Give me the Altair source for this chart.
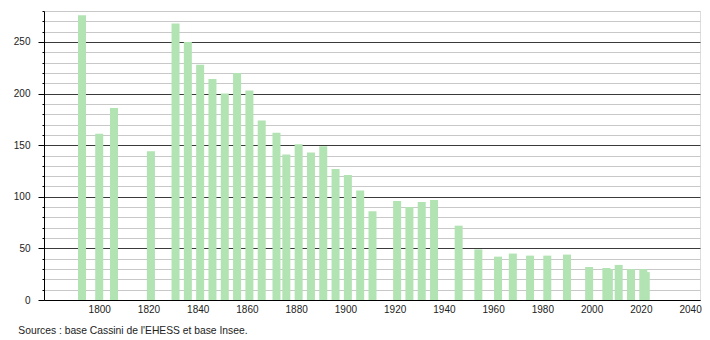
import altair as alt
import pandas as pd

years = [1793, 1800, 1806, 1821, 1831, 1836, 1841, 1846, 1851, 1856, 1861, 1866,
         1872, 1876, 1881, 1886, 1891, 1896, 1901, 1906, 1911, 1921, 1926, 1931,
         1936, 1946, 1954, 1962, 1968, 1975, 1982, 1990, 1999, 2006, 2007, 2011,
         2016, 2021, 2022]
population = [276, 161, 186, 144, 268, 250, 228, 214, 200, 220, 203, 174,
              162, 141, 151, 143, 149, 127, 121, 106, 86, 96, 90, 95,
              97, 72, 49, 42, 45, 43, 43, 44, 32, 31, 30, 34,
              30, 30, 27]
x_ticks = [1800, 1820, 1840, 1860, 1880, 1900, 1920, 1940, 1960, 1980, 2000, 2020, 2040]
y_ticks = list(range(0, 290, 10))
source_text = "Sources : base Cassini de l'EHESS et base Insee."

df = pd.DataFrame({"annee": years, "population": population})

major = "datum.value % 50 === 0"

bars = alt.Chart(df).mark_bar(size=8, color="#b2e3b2").encode(
    x=alt.X("annee:Q",
            scale=alt.Scale(domain=[1779.6, 2042], nice=False, zero=False),
            axis=alt.Axis(values=x_ticks, format="d", title=None, grid=False,
                          ticks=False, labelPadding=4, labelFontSize=10,
                          labelFont="Liberation Sans", labelColor="#222",
                          domainColor="#000", domainWidth=1)),
    y=alt.Y("population:Q",
            scale=alt.Scale(domain=[0, 280], nice=False),
            axis=alt.Axis(values=y_ticks, title=None,
                          labelExpr="datum.value % 50 === 0 ? datum.label : ''",
                          labelFontSize=10, labelFont="Liberation Sans",
                          labelColor="#222", labelPadding=8,
                          tickSize={"condition": {"test": major, "value": 6}, "value": 2},
                          tickColor="#000",
                          grid=True,
                          gridColor={"condition": {"test": major, "value": "#3a3a3a"}, "value": "#c8c8c8"},
                          gridWidth=1,
                          domainColor="#000", domainWidth=1)),
)

chart = bars.properties(
    width=656,
    height=289,
    padding={"left": 44, "top": 11, "right": 10, "bottom": 40},
    autosize=alt.AutoSizeParams(type="none"),
    title=alt.TitleParams(source_text, orient="bottom", anchor="start", frame="bounds",
                          fontSize=10.3, font="Liberation Sans", fontWeight="normal",
                          color="#222", offset=12, dx=5),
).configure_view(stroke=None).configure(background="white")

chart.save("out.html", embed_options={"renderer": "svg", "actions": False})
